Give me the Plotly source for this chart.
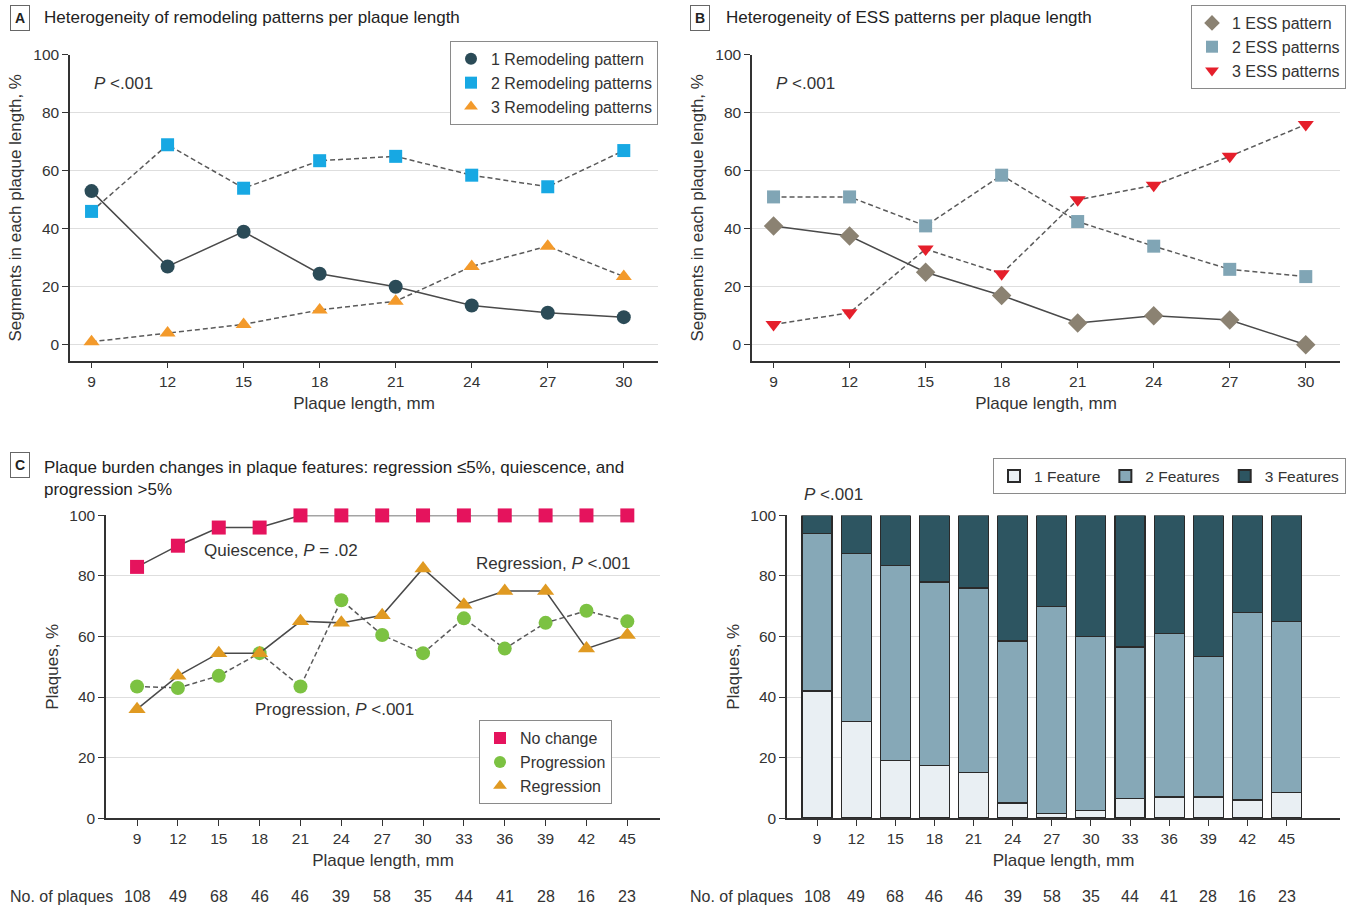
import plotly.graph_objects as go

W, H = 1354, 910
FONT = "Liberation Sans, Arial, sans-serif"

# ---------------- data ----------------
x_ab = [9, 12, 15, 18, 21, 24, 27, 30]
remod_1 = [53, 27, 39, 24.5, 20, 13.5, 11, 9.5]
remod_2 = [46, 69, 54, 63.5, 65, 58.5, 54.5, 67]
remod_3 = [1, 4, 7, 12, 15, 27, 34, 23.5]

ess_1 = [41, 37.5, 25, 17, 7.5, 10, 8.5, 0]
ess_2 = [51, 51, 41, 58.5, 42.5, 34, 26, 23.5]
ess_3 = [7, 11, 33, 24.5, 50, 55, 65, 76]

x_cd = [9, 12, 15, 18, 21, 24, 27, 30, 33, 36, 39, 42, 45]
no_change = [83, 90, 96, 96, 100, 100, 100, 100, 100, 100, 100, 100, 100]
progression = [43.5, 43, 47, 54.5, 43.5, 72, 60.5, 54.5, 66, 56, 64.5, 68.5, 65]
regression = [36, 47, 54.5, 54.5, 65, 64.5, 67, 82.5, 70.5, 75, 75, 56, 60.5]

feat_1 = [42, 32, 19, 17.5, 15, 5, 1.5, 2.5, 6.5, 7, 7, 6, 8.5]
feat_2 = [52, 55.5, 64.5, 60.5, 61, 53.5, 68.5, 57.5, 50, 54, 46.5, 62, 56.5]
feat_3 = [6, 12.5, 16.5, 22, 24, 41.5, 30, 40, 43.5, 39, 46.5, 32, 35]

n_plaques = [108, 49, 68, 46, 46, 39, 58, 35, 44, 41, 28, 16, 23]
y_ticks = [0, 20, 40, 60, 80, 100]

# ---------------- helpers ----------------
# the captured picture places the page in a band 8..902 px high; compensate
TOP, BAND = 8.0, 894.0

def px(x):
    return x / W

def py(y):
    yc = (y - TOP) * H / BAND
    return 1 - yc / H

LINE_SOLID = dict(color="#4a4a4a", width=1.5)
LINE_DASH = dict(color="#5a5a5a", width=1.5, dash="5px,3px")

fig = go.Figure()

def add_series(x, y, name, xa, ya, marker, line, legend):
    fig.add_trace(go.Scatter(x=x, y=y, mode="lines", line=line, xaxis=xa, yaxis=ya,
                             showlegend=False, hoverinfo="skip", cliponaxis=False))
    fig.add_trace(go.Scatter(x=x, y=y, mode="markers", name=name, marker=marker,
                             xaxis=xa, yaxis=ya, legend=legend, cliponaxis=False))

# Panel A
add_series(x_ab, remod_1, "1 Remodeling pattern", "x", "y",
           dict(symbol="circle", size=14, color="#2b4b57"), LINE_SOLID, "legend")
add_series(x_ab, remod_2, "2 Remodeling patterns", "x", "y",
           dict(symbol="square", size=13, color="#17a8e3"), LINE_DASH, "legend")
add_series(x_ab, remod_3, "3 Remodeling patterns", "x", "y",
           dict(symbol="triangle-up", size=14, color="#f39a2b"), LINE_DASH, "legend")

# Panel B
add_series(x_ab, ess_1, "1 ESS pattern", "x2", "y2",
           dict(symbol="diamond", size=15, color="#8b8272"), LINE_SOLID, "legend2")
add_series(x_ab, ess_2, "2 ESS patterns", "x2", "y2",
           dict(symbol="square", size=13, color="#80a5b5"), LINE_DASH, "legend2")
add_series(x_ab, ess_3, "3 ESS patterns", "x2", "y2",
           dict(symbol="triangle-down", size=14, color="#e51f2b"), LINE_DASH, "legend2")

# Panel C
add_series(x_cd, no_change, "No change", "x3", "y3",
           dict(symbol="square", size=14, color="#e5135d"), LINE_SOLID, "legend3")
add_series(x_cd, progression, "Progression", "x3", "y3",
           dict(symbol="circle", size=14, color="#7cc242"), LINE_DASH, "legend3")
add_series(x_cd, regression, "Regression", "x3", "y3",
           dict(symbol="triangle-up", size=15, color="#e09a22"), LINE_SOLID, "legend3")

# Panel D
for vals, name, col in [(feat_1, "1 Feature", "#e9eff3"),
                        (feat_2, "2 Features", "#86a8b7"),
                        (feat_3, "3 Features", "#2d5561")]:
    fig.add_trace(go.Bar(x=x_cd, y=vals, name=name, width=2.3, xaxis="x4", yaxis="y4",
                         marker=dict(color=col, line=dict(color="#2a2a2a", width=1.2)),
                         legend="legend4"))

# ---------------- axes ----------------
tickfont = dict(family=FONT, size=15.5, color="#333")
titlefont = dict(family=FONT, size=17, color="#333")

def xax(dom, rng, tv, anchor, title):
    return dict(domain=dom, range=rng, tickvals=tv, ticks="outside", ticklen=6, tickwidth=1.3,
                tickcolor="#333", showline=True, linecolor="#333", linewidth=1.5, showgrid=False,
                zeroline=False, anchor=anchor, tickfont=tickfont,
                title=dict(text=title, font=titlefont, standoff=8))

def yax(dom, rng, anchor, title, standoff):
    return dict(domain=dom, range=rng, tickvals=y_ticks, ticks="outside", ticklen=6, tickwidth=1.3,
                tickcolor="#333", showline=True, linecolor="#333", linewidth=1.5, showgrid=True,
                gridcolor="#dedede", gridwidth=1, zeroline=False, anchor=anchor, tickfont=tickfont,
                title=dict(text=title, font=titlefont, standoff=standoff))

ydom_ab = [py(360), py(54)]
ydom_cd = [py(818), py(515)]

fig.update_layout(
    xaxis=xax([px(70), px(658)], [8.15, 31.35], x_ab, "y", "Plaque length, mm"),
    yaxis=yax(ydom_ab, [-5.5, 100], "x", "Segments in each plaque length, %", 7),
    xaxis2=xax([px(752), px(1340)], [8.15, 31.35], x_ab, "y2", "Plaque length, mm"),
    yaxis2=yax(ydom_ab, [-5.5, 100], "x2", "Segments in each plaque length, %", 7),
    xaxis3=xax([px(106), px(660)], [6.72, 47.4], x_cd, "y3", "Plaque length, mm"),
    yaxis3=yax(ydom_cd, [0, 100], "x3", "Plaques, %", 6),
    xaxis4=xax([px(787), px(1340)], [6.7, 49.1], x_cd, "y4", "Plaque length, mm"),
    yaxis4=yax(ydom_cd, [0, 100], "x4", "Plaques, %", 6),
    barmode="stack",
)

# ---------------- legends ----------------
legfont = dict(family=FONT, size=16, color="#333")
common_leg = dict(bgcolor="white", bordercolor="#8a8a8a", borderwidth=1,
                  xanchor="right", yanchor="top", tracegroupgap=0, itemsizing="constant",
                  traceorder="normal")
fig.update_layout(
    legend=dict(x=px(658), y=py(40), font=legfont, **common_leg),
    legend2=dict(x=px(1346), y=py(4), font=legfont, **common_leg),
    legend3=dict(x=px(612), y=py(720), font=legfont, **common_leg),
    legend4=dict(x=px(1346), y=py(458), orientation="h",
                 font=dict(family=FONT, size=15.5, color="#333"), **common_leg),
)

# ---------------- annotations ----------------
ann = []
box_font = dict(family=FONT, size=14, color="#222")
title_font = dict(family=FONT, size=17, color="#222")

def letter_box(letter, x_box, y_center):
    ann.append(dict(text="<b>%s</b>" % letter, x=px(x_box), y=py(y_center), xref="paper", yref="paper",
                    xanchor="left", yanchor="middle", showarrow=False, bordercolor="#666",
                    borderwidth=1, borderpad=4, bgcolor="white", font=box_font))

letter_box("A", 10, 17)
ann.append(dict(text="Heterogeneity of remodeling patterns per plaque length", x=px(42), y=py(17),
                xref="paper", yref="paper", xanchor="left", yanchor="middle", showarrow=False,
                font=title_font))
letter_box("B", 690, 17)
ann.append(dict(text="Heterogeneity of ESS patterns per plaque length", x=px(724), y=py(17),
                xref="paper", yref="paper", xanchor="left", yanchor="middle", showarrow=False,
                font=title_font))
letter_box("C", 10, 465)
ann.append(dict(text="Plaque burden changes in plaque features: regression ≤5%, quiescence, and<br>progression >5%",
                x=px(42), y=py(455), xref="paper", yref="paper", xanchor="left", yanchor="top",
                showarrow=False, align="left", font=title_font))

pfont = dict(family=FONT, size=17, color="#333")
ann.append(dict(text="<i>P</i> <.001", x=9, y=90, xref="x", yref="y", xanchor="left",
                showarrow=False, font=pfont))
ann.append(dict(text="<i>P</i> <.001", x=9, y=90, xref="x2", yref="y2", xanchor="left",
                showarrow=False, font=pfont))
ann.append(dict(text="<i>P</i> <.001", x=px(802), y=py(494), xref="paper", yref="paper",
                xanchor="left", yanchor="middle", showarrow=False, font=pfont))
ann.append(dict(text="Quiescence, <i>P</i> = .02", x=19.6, y=88.5, xref="x3", yref="y3",
                showarrow=False, font=pfont))
ann.append(dict(text="Regression, <i>P</i> <.001", x=39.6, y=84.2, xref="x3", yref="y3",
                showarrow=False, font=pfont))
ann.append(dict(text="Progression, <i>P</i> <.001", x=23.5, y=35.8, xref="x3", yref="y3",
                showarrow=False, font=pfont))

# No. of plaques rows
nfont = dict(family=FONT, size=16, color="#333")
for xref, lx in [("x3", 8), ("x4", 688)]:
    ann.append(dict(text="No. of plaques", x=px(lx), y=py(896), xref="paper", yref="paper",
                    xanchor="left", yanchor="middle", showarrow=False, font=nfont))
    for xv, n in zip(x_cd, n_plaques):
        ann.append(dict(text=str(n), x=xv, y=py(896), xref=xref, yref="paper",
                        xanchor="center", yanchor="middle", showarrow=False, font=nfont))

fig.update_layout(
    annotations=ann,
    width=W, height=H,
    margin=dict(l=0, r=0, t=0, b=0),
    paper_bgcolor="white", plot_bgcolor="white",
    font=dict(family=FONT, color="#333"),
)

post = ("document.documentElement.style.margin='0';document.documentElement.style.padding='0';"
        "document.body.style.margin='0';document.body.style.padding='0';"
        "document.documentElement.style.overflow='hidden';document.body.style.overflow='hidden';"
        "var d=document.getElementById('{plot_id}');d.parentElement.style.lineHeight='0';"
        "d.parentElement.style.fontSize='0';")
fig.write_html("out.html", config={"displayModeBar": False}, post_script=post)
